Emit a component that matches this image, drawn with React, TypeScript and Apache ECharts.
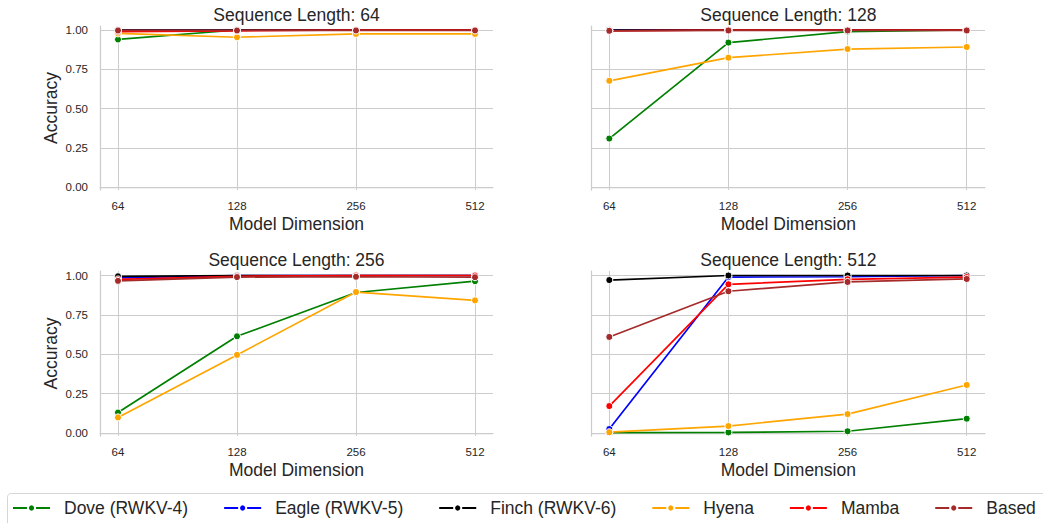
import React, { useEffect, useRef } from "react";
import * as echarts from "echarts";

const modelDims = ["64", "128", "256", "512"];
const seqLengths = ["64", "128", "256", "512"];
const modelNames = ["Dove (RWKV-4)", "Eagle (RWKV-5)", "Finch (RWKV-6)", "Hyena", "Mamba", "Based"];
const modelColors = ["#008000", "#0000ff", "#000000", "#ffa500", "#ff0000", "#a52a2a"];
const yTicks = [0, 0.25, 0.5, 0.75, 1];

// accuracy per model: one row per sequence length (64, 128, 256, 512), values per model dimension
const doveAcc = [
  [0.94, 1.0, 1.0, 1.0],
  [0.31, 0.92, 0.99, 1.0],
  [0.13, 0.614, 0.892, 0.964],
  [0.003, 0.004, 0.011, 0.091],
];
const eagleAcc = [
  [1.0, 1.0, 1.0, 1.0],
  [1.0, 1.0, 1.0, 1.0],
  [0.985, 1.0, 1.0, 1.0],
  [0.025, 0.99, 0.992, 1.0],
];
const finchAcc = [
  [1.0, 1.0, 1.0, 1.0],
  [1.0, 1.0, 1.0, 1.0],
  [0.995, 1.0, 1.0, 1.0],
  [0.971, 1.0, 1.0, 1.0],
];
const hyenaAcc = [
  [0.978, 0.954, 0.975, 0.975],
  [0.677, 0.824, 0.879, 0.892],
  [0.099, 0.496, 0.895, 0.842],
  [0.005, 0.044, 0.12, 0.305],
];
const mambaAcc = [
  [0.99, 0.995, 1.0, 1.0],
  [0.995, 1.0, 1.0, 1.0],
  [0.975, 0.995, 1.0, 1.0],
  [0.171, 0.944, 0.976, 0.99],
];
const basedAcc = [
  [0.997, 0.997, 0.997, 0.997],
  [0.995, 0.997, 0.997, 0.997],
  [0.966, 0.99, 0.992, 0.989],
  [0.61, 0.9, 0.959, 0.978],
];
const allAcc = [doveAcc, eagleAcc, finchAcc, hyenaAcc, mambaAcc, basedAcc];

const FONT = "'Liberation Sans', Arial, sans-serif";
const TEXT = "#262626";
const GRID = "#cccccc";

const panels = [
  { fx: 100, fy: 26, fw: 393, fh: 164, ix: 118, iy: 30, iw: 357, ih: 157.3, showY: true },
  { fx: 591.7, fy: 26, fw: 393.3, fh: 164, ix: 609.3, iy: 30, iw: 357.4, ih: 157.3, showY: false },
  { fx: 100, fy: 271, fw: 393, fh: 165, ix: 118, iy: 275.5, iw: 357, ih: 157.5, showY: true },
  { fx: 591.7, fy: 271, fw: 393.3, fh: 165, ix: 609.3, iy: 275.5, iw: 357.4, ih: 157.5, showY: false },
];

function buildOption() {
  const grid: any[] = [];
  const xAxis: any[] = [];
  const yAxis: any[] = [];
  const series: any[] = [];
  const graphic: any[] = [];

  panels.forEach((p, pi) => {
    const base = pi * 3;
    // A: horizontal gridlines + y labels + bottom spine
    grid.push({ left: p.fx, top: p.iy, width: p.fw, height: p.ih, containLabel: false });
    xAxis.push({
      gridIndex: base, type: "value", min: 0, max: 1, position: "bottom",
      offset: p.fy + p.fh - (p.iy + p.ih),
      axisLine: { show: true, lineStyle: { color: GRID, width: 1.25 } },
      axisTick: { show: false }, axisLabel: { show: false }, splitLine: { show: false },
    });
    yAxis.push({
      gridIndex: base, type: "value", min: 0, max: 1, interval: 0.25,
      axisLine: { show: false }, axisTick: { show: false },
      splitLine: { show: true, lineStyle: { color: GRID, width: 1 } },
      axisLabel: {
        show: p.showY, margin: 12, fontSize: 11.5, color: TEXT, fontFamily: FONT,
        formatter: (v: number) => (yTicks.indexOf(v) >= 0 ? v.toFixed(2) : ""),
      },
    });
    // B: vertical gridlines + x labels + left spine
    grid.push({ left: p.ix, top: p.fy, width: p.iw, height: p.fh, containLabel: false });
    xAxis.push({
      gridIndex: base + 1, type: "category", data: modelDims, boundaryGap: false,
      axisLine: { show: false }, axisTick: { show: false },
      splitLine: { show: true, lineStyle: { color: GRID, width: 1 } },
      axisLabel: { show: true, margin: 10, fontSize: 11.5, color: TEXT, fontFamily: FONT, interval: 0 },
    });
    yAxis.push({
      gridIndex: base + 1, type: "value", min: 0, max: 1, position: "left",
      offset: p.ix - p.fx,
      axisLine: { show: true, lineStyle: { color: GRID, width: 1.25 } },
      axisTick: { show: false }, axisLabel: { show: false }, splitLine: { show: false },
    });
    // C: data
    grid.push({ left: p.ix, top: p.iy, width: p.iw, height: p.ih, containLabel: false });
    xAxis.push({ gridIndex: base + 2, type: "category", data: modelDims, boundaryGap: false, show: false });
    yAxis.push({ gridIndex: base + 2, type: "value", min: 0, max: 1, show: false });

    modelNames.forEach((name, mi) => {
      series.push({
        type: "line", name, xAxisIndex: base + 2, yAxisIndex: base + 2,
        data: allAcc[mi][pi], clip: false,
        symbol: "circle", symbolSize: 7, showSymbol: true,
        color: modelColors[mi],
        itemStyle: { color: modelColors[mi], borderColor: "#ffffff", borderWidth: 1 },
        lineStyle: { color: modelColors[mi], width: 1.7 },
        emphasis: { disabled: true },
        z: 3,
      });
    });

    graphic.push({
      type: "text", x: p.fx + p.fw / 2, y: p.fy - 11,
      style: { text: `Sequence Length: ${seqLengths[pi]}`, fill: TEXT, fontSize: 17.5, fontFamily: FONT, align: "center", verticalAlign: "middle" },
    });
    graphic.push({
      type: "text", x: p.fx + p.fw / 2, y: p.fy + p.fh + 33.5,
      style: { text: "Model Dimension", fill: TEXT, fontSize: 17.5, fontFamily: FONT, align: "center", verticalAlign: "middle" },
    });
    if (p.showY) {
      graphic.push({
        type: "text", x: 51, y: p.fy + p.fh / 2, rotation: Math.PI / 2,
        style: { text: "Accuracy", fill: TEXT, fontSize: 17.5, fontFamily: FONT, align: "center", verticalAlign: "middle" },
      });
    }
  });

  graphic.push({
    type: "rect", z: -10,
    shape: { x: 7.5, y: 493.5, width: 1060, height: 45, r: 4 },
    style: { fill: "#ffffff", stroke: "#d6d6d6", lineWidth: 1 },
  });

  return {
    animation: false,
    backgroundColor: "#ffffff",
    textStyle: { fontFamily: FONT },
    grid, xAxis, yAxis, series, graphic,
    legend: {
      data: modelNames, left: 12, top: 498, width: 1200, padding: 0,
      itemWidth: 37, itemHeight: 9, itemGap: 35,
      textStyle: { fontSize: 17.5, color: TEXT, fontFamily: FONT, padding: [0, 0, 0, 9], lineHeight: 20 },
      selectedMode: false,
    },
  };
}

export default function App() {
  const ref = useRef<HTMLDivElement>(null);
  useEffect(() => {
    if (!ref.current) return;
    const chart = echarts.init(ref.current, undefined, { renderer: "svg" });
    chart.setOption(buildOption() as any);
    return () => chart.dispose();
  }, []);
  return <div ref={ref} style={{ position: "fixed", left: 0, top: 0, width: 1043, height: 523, background: "#fff" }} />;
}
